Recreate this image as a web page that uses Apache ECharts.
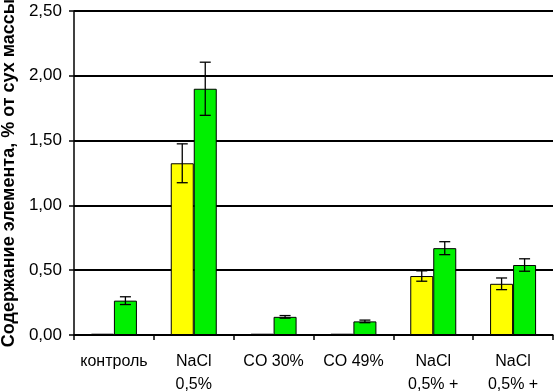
<!DOCTYPE html>
<html><head><meta charset="utf-8">
<script src="https://cdn.jsdelivr.net/npm/echarts@6/dist/echarts.min.js"></script>
<style>html,body{margin:0;padding:0;background:#fff}#c{width:555px;height:392px}</style>
</head><body><div id="c"></div>
<script>
var categories = ['контроль', 'NaCl\n0,5%', 'CO 30%', 'CO 49%', 'NaCl\n0,5% +', 'NaCl\n0,5% +'];
var yellowValues = [0.01, 1.325, 0.01, 0.01, 0.455, 0.395];
var yellowErrors = [0, 0.15, 0, 0, 0.04, 0.045];
var greenValues = [0.265, 1.90, 0.14, 0.105, 0.67, 0.54];
var greenErrors = [0.03, 0.205, 0.01, 0.01, 0.05, 0.048];
var yTicks = ['0,00', '0,50', '1,00', '1,50', '2,00', '2,50'];
var yTitle = 'Содержание элемента, % от сух массы';

function errData(vals, errs) {
  return vals.map(function (v, i) { return [i, v - errs[i], v + errs[i]]; });
}
function errSeries(vals, errs, offset) {
  return {
    type: 'custom',
    z: 10,
    data: errData(vals, errs),
    renderItem: function (params, api) {
      if (api.value(2) - api.value(1) <= 0) return null;
      var lo = api.coord([api.value(0), api.value(1)]);
      var hi = api.coord([api.value(0), api.value(2)]);
      var bw = api.size([1, 0])[0];
      var x = lo[0] + bw * offset;
      var h = 5.5;
      var st = { stroke: '#000', lineWidth: 1.3 };
      return { type: 'group', children: [
        { type: 'line', shape: { x1: x, y1: lo[1], x2: x, y2: hi[1] }, style: st },
        { type: 'line', shape: { x1: x - h, y1: lo[1], x2: x + h, y2: lo[1] }, style: st },
        { type: 'line', shape: { x1: x - h, y1: hi[1], x2: x + h, y2: hi[1] }, style: st }
      ]};
    }
  };
}

var chart = echarts.init(document.getElementById('c'));
chart.setOption({
  animation: false,
  grid: { left: 74, right: 2, top: 11, bottom: 57, containLabel: false, outerBoundsMode: 'none' },
  xAxis: {
    type: 'category',
    data: categories,
    axisLine: { lineStyle: { color: '#000', width: 1.5 } },
    axisTick: { show: true, length: 5, lineStyle: { color: '#000', width: 1.5 } },
    axisLabel: { color: '#000', fontFamily: 'Liberation Sans, Arial', fontSize: 16, lineHeight: 23, margin: 15, interval: 0 }
  },
  yAxis: {
    type: 'value',
    min: 0, max: 2.5, interval: 0.5,
    name: yTitle,
    nameLocation: 'middle',
    nameGap: 56,
    nameTextStyle: { color: '#000', fontFamily: 'Liberation Sans, Arial', fontSize: 18, fontWeight: 'bold' },
    axisLine: { show: true, lineStyle: { color: '#000', width: 1.5 } },
    axisTick: { show: true, length: 5, lineStyle: { color: '#000', width: 1.5 } },
    splitLine: { lineStyle: { color: '#000', width: 2 } },
    axisLabel: {
      color: '#000', fontFamily: 'Liberation Sans, Arial', fontSize: 17, margin: 12,
      formatter: function (v) { return yTicks[Math.round(v / 0.5)]; }
    }
  },
  series: [
    { type: 'bar', data: yellowValues, barWidth: 23, barGap: '0%',
      itemStyle: { color: '#ffff00', borderColor: '#000', borderWidth: 1 } },
    { type: 'bar', data: greenValues, barWidth: 23, barGap: '0%',
      itemStyle: { color: '#00f000', borderColor: '#000', borderWidth: 1 } },
    errSeries(yellowValues, yellowErrors, -0.144),
    errSeries(greenValues, greenErrors, 0.144)
  ]
});
</script></body></html>
